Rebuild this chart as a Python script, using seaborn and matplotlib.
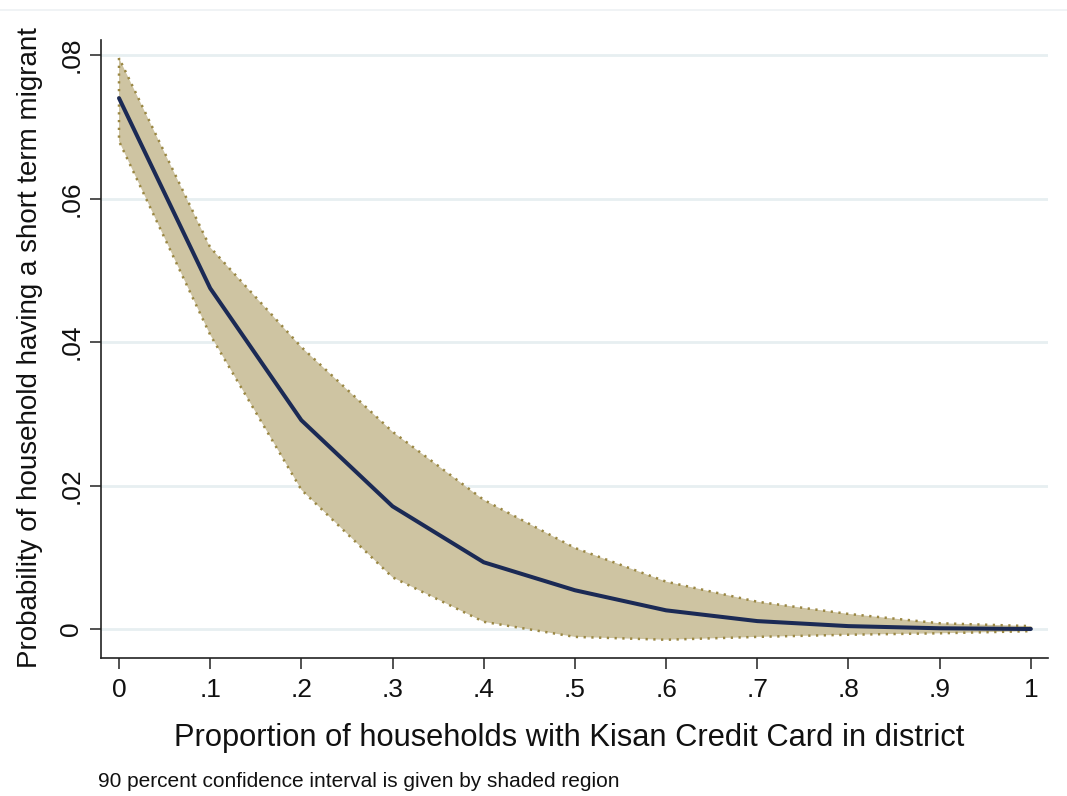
import numpy as np
import pandas as pd
import matplotlib
matplotlib.use("Agg")
import matplotlib.pyplot as plt
import seaborn as sns
from matplotlib.lines import Line2D

# ---- data ----
kcc_share = [0.0, 0.1, 0.2, 0.3, 0.4, 0.5, 0.6, 0.7, 0.8, 0.9, 1.0]
prob_migrant = [0.0740, 0.0475, 0.0291, 0.0171, 0.0093, 0.0054, 0.0026, 0.0011, 0.0004, 0.0001, 0.0000]
ci_upper = [0.0796, 0.0532, 0.0393, 0.0275, 0.0180, 0.0113, 0.0066, 0.0038, 0.0021, 0.0008, 0.0004]
ci_lower = [0.0680, 0.0410, 0.0194, 0.0072, 0.0010, -0.0011, -0.0015, -0.0011, -0.0008, -0.0006, -0.0003]
x_ticks = [0.0, 0.1, 0.2, 0.3, 0.4, 0.5, 0.6, 0.7, 0.8, 0.9, 1.0]
x_tick_labels = ["0", ".1", ".2", ".3", ".4", ".5", ".6", ".7", ".8", ".9", "1"]
y_ticks = [0.0, 0.02, 0.04, 0.06, 0.08]
y_tick_labels = ["0", ".02", ".04", ".06", ".08"]

df = pd.DataFrame({"x": kcc_share, "y": prob_migrant, "lo": ci_lower, "hi": ci_upper})

sns.set_theme(style="white")
plt.rcParams["font.family"] = ["Liberation Sans", "DejaVu Sans"]

fig = plt.figure(figsize=(10.67, 7.96), dpi=100)
ax = fig.add_axes([0.0947, 0.1734, 0.982 - 0.0947, 0.9497 - 0.1734])

fill_col = "#CEC4A2"
edge_col = "#9A8743"
line_col = "#1B2A55"
grid_col = "#E7EFF1"

for yt in y_ticks:
    ax.axhline(yt, color=grid_col, lw=2, zorder=0)

ax.fill_between(df["x"], df["lo"], df["hi"], facecolor=fill_col, edgecolor=edge_col,
                lw=1.8, linestyle=(0, (0.9, 2.2)), zorder=1)
sns.lineplot(data=df, x="x", y="y", ax=ax, color=line_col, lw=2.9, zorder=3)

ax.set_xlim(-0.0197, 1.0186)
ax.set_ylim(-0.00404, 0.0821)
ax.set_xticks(x_ticks)
ax.set_xticklabels(x_tick_labels, fontsize=19)
ax.set_yticks(y_ticks)
ax.set_yticklabels(y_tick_labels, fontsize=19, rotation=90, va="center")

ax.tick_params(axis="both", direction="out", length=8, width=1.2, color="#333333",
               labelcolor="#111111", left=True, bottom=True)
ax.tick_params(axis="x", pad=6.5)
ax.tick_params(axis="y", pad=4.7)

for s in ["top", "right"]:
    ax.spines[s].set_visible(False)
for s in ["left", "bottom"]:
    ax.spines[s].set_color("#222222")
    ax.spines[s].set_linewidth(1.2)

ax.set_xlabel("Proportion of households with Kisan Credit Card in district", fontsize=22.2,
              color="#111111")
ax.set_ylabel("Probability of household having a short term migrant", fontsize=20,
              color="#111111")
ax.xaxis.set_label_coords(0.4947, -0.105)
ax.yaxis.set_label_coords(-0.061, 0.502)

fig.text(98 / 1067, 9 / 796, "90 percent confidence interval is given by shaded region",
         fontsize=15, color="#111111", ha="left", va="baseline")

fig.add_artist(Line2D([0, 1], [1 - 10 / 796, 1 - 10 / 796], transform=fig.transFigure,
                      color="#EEF1F3", lw=1.2))

fig.savefig("out.png", dpi=100, facecolor="white")
